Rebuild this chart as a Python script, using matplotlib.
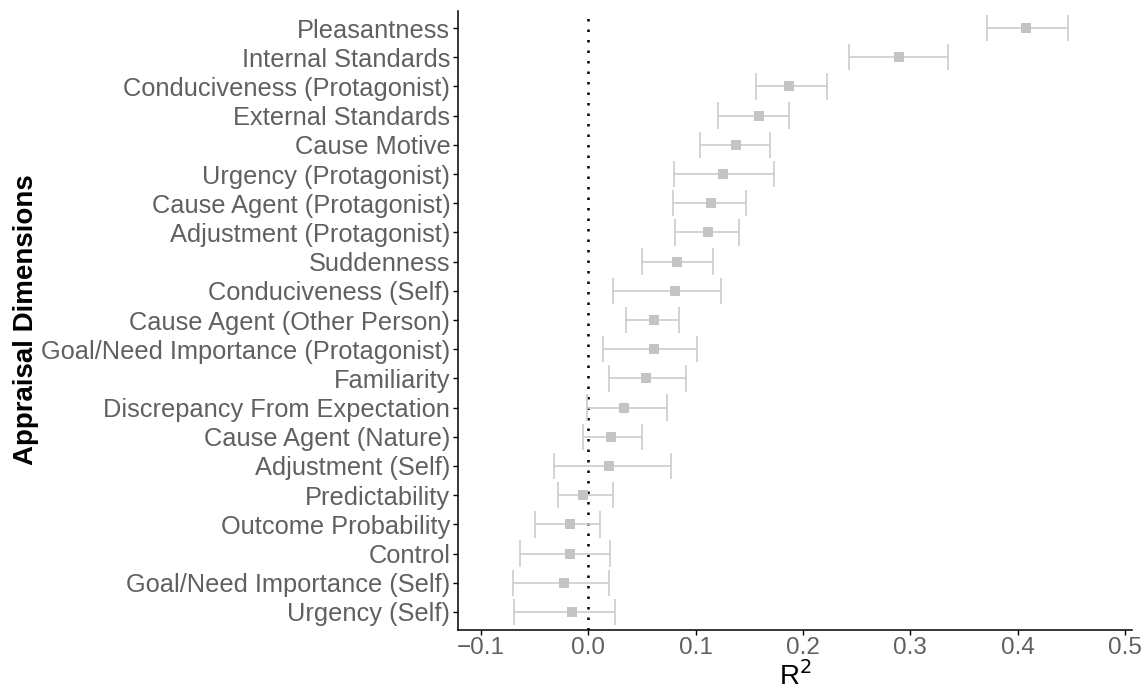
import numpy as np
import matplotlib.pyplot as plt

plt.rcParams['font.family'] = ['Liberation Sans', 'DejaVu Sans']

labels = ['Pleasantness', 'Internal Standards', 'Conduciveness (Protagonist)',
          'External Standards', 'Cause Motive', 'Urgency (Protagonist)',
          'Cause Agent (Protagonist)', 'Adjustment (Protagonist)', 'Suddenness',
          'Conduciveness (Self)', 'Cause Agent (Other Person)',
          'Goal/Need Importance (Protagonist)', 'Familiarity',
          'Discrepancy From Expectation', 'Cause Agent (Nature)',
          'Adjustment (Self)', 'Predictability', 'Outcome Probability',
          'Control', 'Goal/Need Importance (Self)', 'Urgency (Self)']
r2 = [0.408, 0.290, 0.187, 0.159, 0.138, 0.126, 0.114, 0.112, 0.083, 0.081,
      0.061, 0.061, 0.054, 0.033, 0.021, 0.019, -0.005, -0.017, -0.017,
      -0.023, -0.015]
lower = [0.372, 0.243, 0.156, 0.121, 0.104, 0.080, 0.079, 0.081, 0.050, 0.023,
         0.035, 0.014, 0.019, -0.001, -0.005, -0.032, -0.028, -0.050, -0.064,
         -0.070, -0.069]
upper = [0.447, 0.335, 0.222, 0.187, 0.169, 0.173, 0.147, 0.140, 0.116, 0.124,
         0.085, 0.101, 0.091, 0.073, 0.050, 0.077, 0.023, 0.011, 0.020,
         0.019, 0.025]

n = len(labels)
y = np.arange(n)[::-1]

fig = plt.figure(figsize=(11.48, 6.91), dpi=100)
ax = fig.add_axes([458/1148, 1 - 629.5/691, (1131.7-458)/1148, (629.5-10.5)/691])

ax.axvline(0, color='black', linestyle=(0, (1, 3.2)), linewidth=1.8, zorder=1)
bar_col = '#cccccc'
ax.hlines(y, lower, upper, color=bar_col, linewidth=1.2, zorder=2)
ax.vlines(lower, y - 0.45, y + 0.45, color=bar_col, linewidth=1.2, zorder=2)
ax.vlines(upper, y - 0.45, y + 0.45, color=bar_col, linewidth=1.2, zorder=2)
ax.scatter(r2, y, marker='s', s=52, color='#c4c4c4', zorder=3, linewidths=0)

ax.set_xlim(-0.1214, 0.5064)
ax.set_ylim(-0.6, n - 0.4)
ax.set_xticks([-0.1, 0.0, 0.1, 0.2, 0.3, 0.4, 0.5])
ax.set_xticklabels(['\u22120.1', '0.0', '0.1', '0.2', '0.3', '0.4', '0.5'])
ax.set_yticks(y)
ax.set_yticklabels(labels)

for s in ['top', 'right']:
    ax.spines[s].set_visible(False)
for s in ['left', 'bottom']:
    ax.spines[s].set_linewidth(1.1)
ax.tick_params(axis='both', length=3.5, width=1.0, color='black',
               labelcolor='#606060', pad=2)
ax.tick_params(axis='y', labelsize=18.3)
ax.tick_params(axis='x', labelsize=17.5)

ax.set_xlabel('R$^2$', fontsize=20, color='black', labelpad=1.5)
ax.set_ylabel('Appraisal Dimensions', fontsize=20, fontweight='bold',
              color='black')
ax.yaxis.set_label_coords(-0.622, 0.5)

fig.savefig('out.png', dpi=100)
